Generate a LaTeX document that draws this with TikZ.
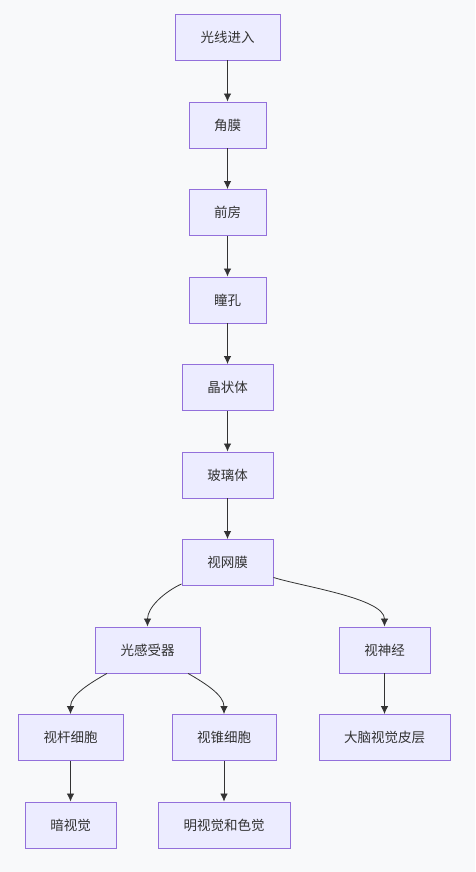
\documentclass[tikz,border=0pt]{standalone}
\usepackage{fontspec}
\setmainfont{Noto Sans CJK SC}
\usetikzlibrary{arrows.meta}
\definecolor{boxfill}{HTML}{ECECFF}
\definecolor{boxline}{HTML}{9370DB}
\definecolor{ink}{HTML}{333333}
\definecolor{paper}{HTML}{F8F9FA}
\begin{document}
\begin{tikzpicture}[
            x=1pt, y=1pt,
            stage/.style={
                rectangle,
                draw=boxline,
                fill=boxfill,
                line width=0.9pt,
                minimum height=46pt,
                inner sep=0pt,
                text=ink,
                font=\fontsize{13.5}{16}\selectfont
            },
            arr/.style={
                draw=ink,
                line width=0.8pt,
                -{Latex[length=8pt,width=7.5pt]}
            }
        ]

            \fill[paper] (0, 0) rectangle (475, -872);
            \useasboundingbox (0, 0) rectangle (475, -872);

            \node[stage, minimum width=105pt] (light) at (227.5, -37) {光线进入};
            \node[stage, minimum width=77pt] (cornea) at (227.5, -125) {角膜};
            \node[stage, minimum width=77pt] (chamber) at (227.5, -212.5) {前房};
            \node[stage, minimum width=77pt] (pupil) at (227.5, -300) {瞳孔};
            \node[stage, minimum width=91pt] (lens) at (227.5, -387.5) {晶状体};
            \node[stage, minimum width=91pt] (vitreous) at (227.5, -475) {玻璃体};
            \node[stage, minimum width=91pt] (retina) at (227.5, -562.5) {视网膜};

            \node[stage, minimum width=105pt] (receptor) at (147.5, -650) {光感受器};
            \node[stage, minimum width=91pt] (nerve) at (384.5, -650) {视神经};

            \node[stage, minimum width=105pt] (rod) at (70.5, -737.5) {视杆细胞};
            \node[stage, minimum width=104pt] (cone) at (224, -737.5) {视锥细胞};
            \node[stage, minimum width=131pt] (cortex) at (384.5, -737.5) {大脑视觉皮层};

            \node[stage, minimum width=91pt] (scotopic) at (70.5, -825) {暗视觉};
            \node[stage, minimum width=132pt] (photopic) at (224, -825) {明视觉和色觉};

            \draw[arr] (light) -- (cornea);
            \draw[arr] (cornea) -- (chamber);
            \draw[arr] (chamber) -- (pupil);
            \draw[arr] (pupil) -- (lens);
            \draw[arr] (lens) -- (vitreous);
            \draw[arr] (vitreous) -- (retina);

            \draw[arr] (retina) to[out=-155, in=90, looseness=0.9] (receptor);
            \draw[arr] (retina) to[out=-18, in=90, looseness=0.6] (nerve);

            \draw[arr] (receptor) to[out=-150, in=90, looseness=0.9] (rod);
            \draw[arr] (receptor) to[out=-30, in=90, looseness=0.9] (cone);
            \draw[arr] (nerve) -- (cortex);

            \draw[arr] (rod) -- (scotopic);
            \draw[arr] (cone) -- (photopic);

        \end{tikzpicture}
\end{document}
